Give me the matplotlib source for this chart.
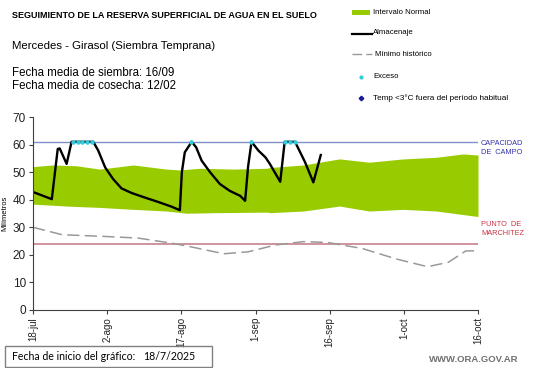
import matplotlib
matplotlib.use("Agg")
import matplotlib.pyplot as plt
from matplotlib.lines import Line2D
from matplotlib.patches import Rectangle
import numpy as np

plt.rcParams['font.family'] = ['Liberation Sans', 'DejaVu Sans']

# ---- data (x = days since 18-jul-2025) ----
tick_days = [0, 15, 30, 45, 60, 75, 90]
tick_labels = ['18-jul', '2-ago', '17-ago', '1-sep', '16-sep', '1-oct', '16-oct']

normal_upper_days = [0, 4, 8.8, 13.5, 20.3, 27, 29.7, 33.8, 40.5, 47.3, 48, 54.7, 58, 62, 68, 74.9, 81.6, 87, 90]
normal_upper_vals = [52.0, 52.6, 52.3, 51.1, 52.6, 51.1, 50.8, 51.4, 51.1, 51.4, 51.7, 52.6, 53.6, 54.8, 53.6, 54.8, 55.4, 56.6, 56.2]
normal_lower_days = [0, 6.8, 13.5, 20.3, 27, 31, 37, 47.3, 48, 54.7, 62, 68, 74.9, 81.6, 90]
normal_lower_vals = [38.4, 37.7, 37.2, 36.5, 35.9, 35.1, 35.3, 35.5, 35.3, 35.9, 37.7, 35.9, 36.5, 35.9, 33.9]

alm_days = [0, 3.8, 5.0, 5.4, 6.8, 7.8, 12.2, 13.2, 14.6, 16.2, 17.9, 20, 22.6, 25.3, 28, 29.7,
            30.1, 30.7, 32.1, 33.0, 34.1, 35.8, 37.8, 39.8, 41.9, 42.9, 43.5, 44.2, 45.6, 47, 47.9, 50,
            50.9, 53, 55, 56.7, 58.2]
alm_vals = [42.8, 40.2, 58.4, 58.6, 53.0, 61.0, 61.0, 57.8, 51.7, 47.5, 44.1, 42.4, 40.8, 39.2, 37.5, 36.2,
            49.9, 57.2, 61.0, 59.0, 54.2, 50.0, 45.7, 43.2, 41.4, 39.6, 52.0, 61.0, 57.8, 55.4, 53.0, 46.5,
            61.0, 61.0, 53.7, 46.3, 56.2]

min_days = [0, 5.9, 14.2, 21.2, 28.2, 31.7, 38.6, 43.5, 49.1, 54.7, 59.6, 66.6, 73.5, 79.8, 84, 87.5, 90]
min_vals = [30.0, 27.3, 26.7, 26.1, 24.2, 23.0, 20.4, 21.1, 23.6, 24.8, 24.5, 22.3, 18.5, 15.7, 17.3, 21.4, 21.5]

exceso_days = [8, 9, 10, 11, 12, 32, 44, 51, 52, 53]
exceso_vals = [61, 61, 61, 61, 61, 61, 61, 61, 61, 61]

capacidad_campo = 61
punto_marchitez = 24

# ---- figure ----
W, H = 541, 368
fig = plt.figure(figsize=(W / 100, H / 100), dpi=100)
ax = fig.add_axes([33 / W, 1 - 310 / H, 445 / W, 193 / H])

grid = np.union1d(normal_upper_days, normal_lower_days)
up = np.interp(grid, normal_upper_days, normal_upper_vals)
lo = np.interp(grid, normal_lower_days, normal_lower_vals)
ax.fill_between(grid, lo, up, color='#99cc00', linewidth=0)

ax.axhline(capacidad_campo, color='#7f8fc8', lw=1.0)
ax.axhline(punto_marchitez, color='#c8808c', lw=1.2)
ax.plot(min_days, min_vals, color='#999999', lw=1.1, dashes=(8, 3.5))
ax.plot(alm_days, alm_vals, color='black', lw=1.7, solid_joinstyle='round')
ax.plot(exceso_days, exceso_vals, linestyle='none', marker='o', ms=2.2, color='#33ccdd', mec='#33ccdd')

ax.set_xlim(0, 90)
ax.set_ylim(0, 70)
ax.set_yticks(range(0, 71, 10))
ax.set_xticks(tick_days)
ax.set_xticklabels(tick_labels, rotation=90, fontsize=7)
ax.tick_params(axis='y', labelsize=8.5, length=3, color='#404040', pad=2, labelcolor='#222222')
ax.tick_params(axis='x', length=3, color='#404040', pad=2, labelcolor='#222222')
for s in ['top', 'right']:
    ax.spines[s].set_visible(False)
for s in ['left', 'bottom']:
    ax.spines[s].set_color('#404040')
    ax.spines[s].set_linewidth(0.8)
ax.set_ylabel('Milímetros', fontsize=5.5, labelpad=3)

# right labels
fig.text(481 / W, 1 - 148 / H, 'CAPACIDAD\nDE  CAMPO', color='#3333aa', fontsize=5.3,
         va='center', ha='left', linespacing=1.3)
fig.text(481 / W, 1 - 229 / H, 'PUNTO  DE\nMARCHITEZ', color='#cc3344', fontsize=5.3,
         va='center', ha='left', linespacing=1.3)

# header texts
fig.text(12 / W, 1 - 15 / H, 'SEGUIMIENTO DE LA RESERVA SUPERFICIAL DE AGUA EN EL SUELO',
         fontsize=6.5, fontweight='bold', va='center', ha='left')
fig.text(12 / W, 1 - 46 / H, 'Mercedes - Girasol (Siembra Temprana)', fontsize=8.2, va='center', ha='left')
fig.text(12 / W, 1 - 73 / H, 'Fecha media de siembra: 16/09', fontsize=8.3, va='center', ha='left')
fig.text(12 / W, 1 - 86 / H, 'Fecha media de cosecha: 12/02', fontsize=8.3, va='center', ha='left')

# legend (manual)
leg_fs = 5.6
fig.patches.append(Rectangle((352 / W, 1 - 15 / H), 18 / W, 5 / H, transform=fig.transFigure,
                             color='#99cc00', lw=0))
fig.text(373 / W, 1 - 12 / H, 'Intervalo Normal', fontsize=leg_fs, va='center', ha='left')
fig.lines.append(Line2D([352 / W, 372 / W], [1 - 34 / H, 1 - 34 / H], transform=fig.transFigure,
                        color='black', lw=1.6))
fig.text(373 / W, 1 - 33 / H, 'Almacenaje', fontsize=leg_fs, va='center', ha='left')
fig.lines.append(Line2D([352 / W, 372 / W], [1 - 54 / H, 1 - 54 / H], transform=fig.transFigure,
                        color='#999999', lw=1.0, dashes=(7, 3)))
fig.text(375 / W, 1 - 54 / H, 'Mínimo histórico', fontsize=leg_fs, va='center', ha='left')
fig.lines.append(Line2D([361 / W], [1 - 77 / H], transform=fig.transFigure, marker='o', ms=2,
                        color='#33ccdd', linestyle='none'))
fig.text(373 / W, 1 - 77 / H, 'Exceso', fontsize=leg_fs, va='center', ha='left')
fig.lines.append(Line2D([361 / W], [1 - 98 / H], transform=fig.transFigure, marker='D', ms=2.3,
                        color='#1a1a99', linestyle='none'))
fig.text(373 / W, 1 - 98 / H, 'Temp <3°C fuera del período habitual', fontsize=5.9, va='center', ha='left')

# bottom box
fig.patches.append(Rectangle((5 / W, 1 - 367 / H), 207 / W, 21 / H, transform=fig.transFigure,
                             fill=False, edgecolor='#808080', lw=1.0))
fig.text(12 / W, 1 - 356 / H, 'Fecha de inicio del gráfico:', fontsize=7.6, va='center', ha='left',
         family=['Lato', 'DejaVu Sans'])
fig.text(143 / W, 1 - 356 / H, '18/7/2025', fontsize=7.6, va='center', ha='left',
         family=['Lato', 'DejaVu Sans'])
fig.text(518 / W, 1 - 360 / H, 'WWW.ORA.GOV.AR', fontsize=6.8, fontweight='bold', color='#707070',
         va='center', ha='right')

fig.savefig('out.png', dpi=100)
